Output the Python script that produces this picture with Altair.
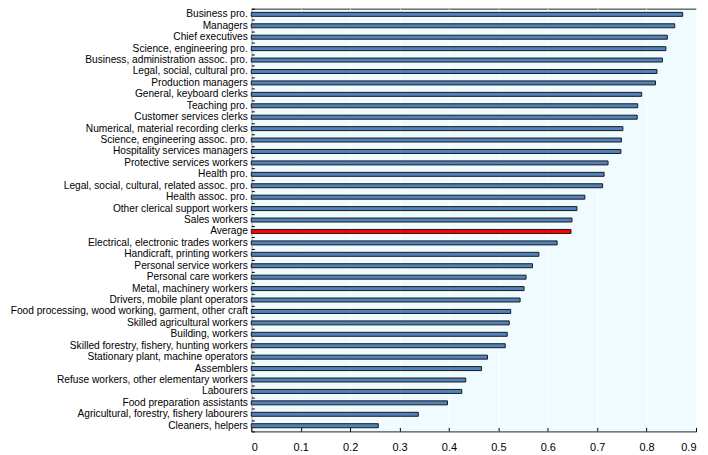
import altair as alt
import pandas as pd

occupations = [
    "Business pro.", "Managers", "Chief executives", "Science, engineering pro.",
    "Business, administration assoc. pro.", "Legal, social, cultural pro.",
    "Production managers", "General, keyboard clerks", "Teaching pro.",
    "Customer services clerks", "Numerical, material recording clerks",
    "Science, engineering assoc. pro.", "Hospitality services managers",
    "Protective services workers", "Health pro.",
    "Legal, social, cultural, related assoc. pro.", "Health assoc. pro.",
    "Other clerical support workers", "Sales workers", "Average",
    "Electrical, electronic trades workers", "Handicraft, printing workers",
    "Personal service workers", "Personal care workers", "Metal, machinery workers",
    "Drivers, mobile plant operators",
    "Food processing, wood working, garment, other craft",
    "Skilled agricultural workers", "Building, workers",
    "Skilled forestry, fishery, hunting workers", "Stationary plant, machine operators",
    "Assemblers", "Refuse workers, other elementary workers", "Labourers",
    "Food preparation assistants", "Agricultural, forestry, fishery labourers",
    "Cleaners, helpers",
]
values = [
    0.873, 0.857, 0.842, 0.839, 0.832, 0.821, 0.818, 0.790, 0.782, 0.781,
    0.752, 0.749, 0.748, 0.722, 0.714, 0.711, 0.675, 0.659, 0.649, 0.647,
    0.619, 0.582, 0.569, 0.556, 0.552, 0.544, 0.525, 0.522, 0.518, 0.514,
    0.478, 0.466, 0.434, 0.426, 0.397, 0.338, 0.257,
]
x_ticks = [0, 0.1, 0.2, 0.3, 0.4, 0.5, 0.6, 0.7, 0.8, 0.9]

df = pd.DataFrame({
    "occupation": occupations,
    "value": values,
    "group": ["Average" if o == "Average" else "Occupation" for o in occupations],
})

FONT = "Liberation Sans"

xscale = alt.Scale(domain=[0, 0.9], nice=False, zero=True)
xaxis = alt.Axis(values=x_ticks, format=".1~f", title=None, domain=False,
                 tickSize=4, offset=-4, tickColor="#000", labelPadding=10,
                 labelFontSize=11, labelFont=FONT, labelColor="#000",
                 grid=True, gridColor="#ffffff", gridWidth=1)

bars = alt.Chart(df).mark_bar(size=4, stroke="#1a1a1a", strokeWidth=1).encode(
    x=alt.X("value:Q", scale=xscale, axis=xaxis),
    y=alt.Y("occupation:N", sort=occupations,
            scale=alt.Scale(paddingInner=0, paddingOuter=0),
            axis=alt.Axis(title=None, ticks=False, domain=False, labelPadding=4,
                          labelFontSize=10.2, labelFont=FONT, labelColor="#000",
                          labelLimit=400)),
    color=alt.Color("group:N",
                    scale=alt.Scale(domain=["Occupation", "Average"],
                                    range=["#4f81bd", "#ff0000"]),
                    legend=None),
)

ticks = alt.Chart(df).mark_bar(opacity=0).encode(
    x=alt.X("value:Q", scale=xscale, axis=xaxis),
    y=alt.Y("occupation:N", sort=occupations,
            scale=alt.Scale(paddingInner=0, paddingOuter=0),
            axis=alt.Axis(orient="left", title=None, labels=False, domain=False,
                          ticks=True, tickSize=3, offset=-3, tickBand="extent",
                          tickColor="#000", grid=False)),
)

chart = alt.layer(bars, ticks).resolve_scale(y="independent").properties(
    width=446,
    height=424,
    autosize=alt.AutoSizeParams(type="none"),
    padding={"left": 244, "top": 0, "right": 4, "bottom": 23},
).configure_view(fill="#f0fbff", stroke="#222222", strokeWidth=1)

chart.save("out.html", embed_options={"renderer": "svg", "actions": False})
